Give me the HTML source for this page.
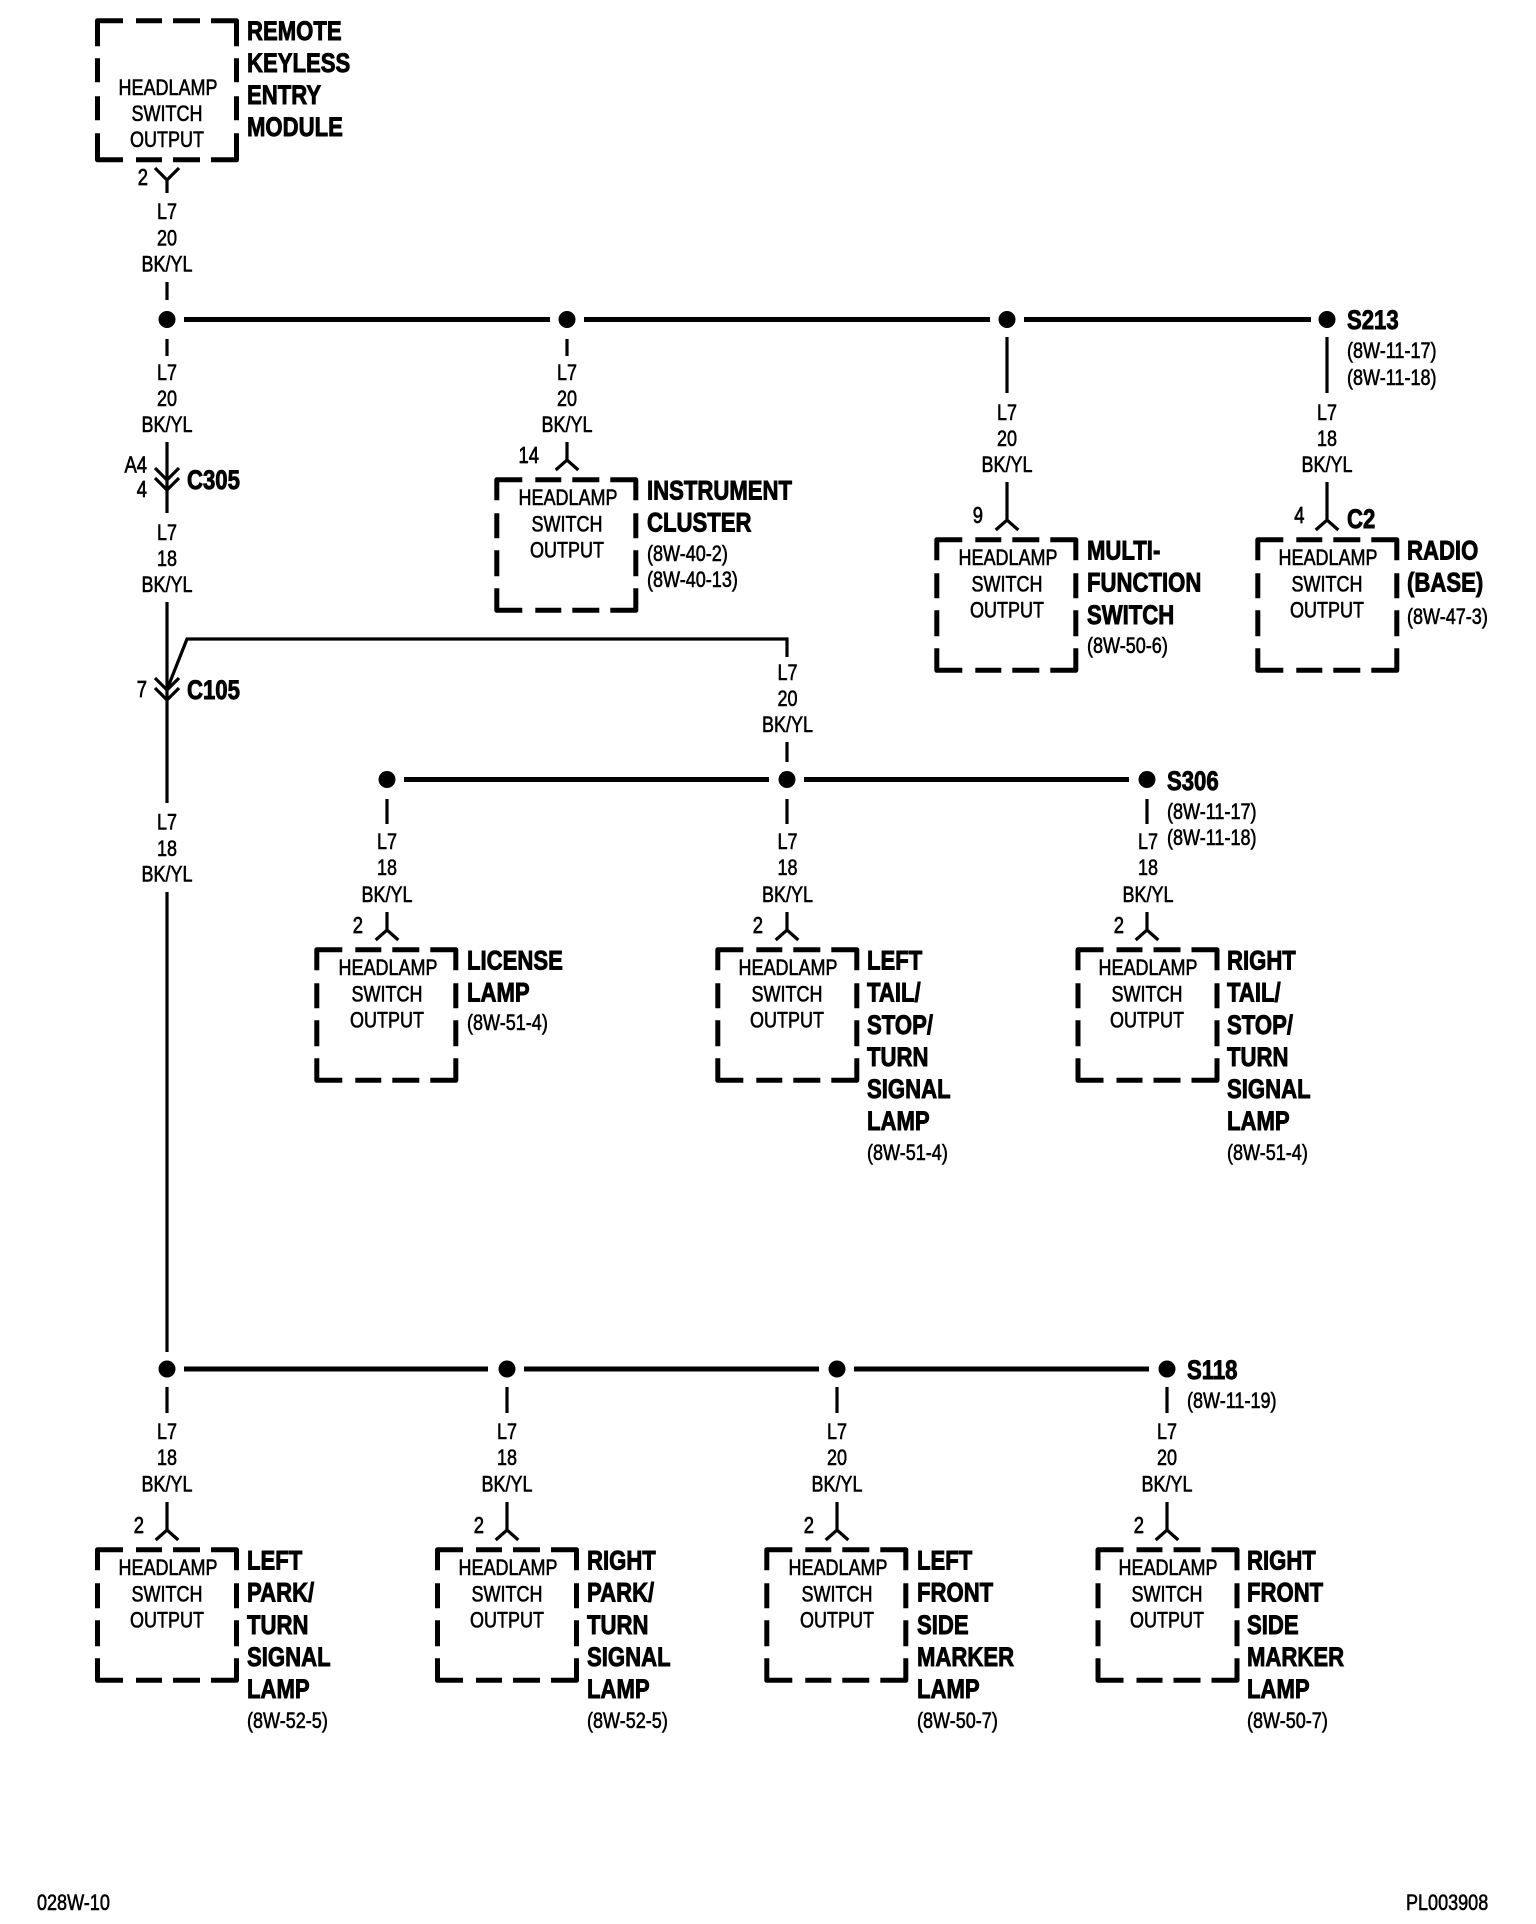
<!DOCTYPE html>
<html><head><meta charset="utf-8"><style>
html,body{margin:0;padding:0;background:#fff}
svg{display:block}
text{font-family:"Liberation Sans",sans-serif;fill:#000}
.w text{font-size:22.5px;text-anchor:middle;stroke:#000;stroke-width:.6}
.r text{font-size:22px;stroke:#000;stroke-width:.6}
.b text{font-size:27px;font-weight:bold;stroke:#000;stroke-width:.9}
.e text{font-size:23px;text-anchor:end;stroke:#000;stroke-width:.7}
.t path{fill:none;stroke:#000;stroke-width:3.2}
.bus line{stroke:#000;stroke-width:5}
</style></head><body>
<svg width="1536" height="1924" viewBox="0 0 1536 1924" xmlns="http://www.w3.org/2000/svg">
<defs>
<path id="bl" fill="none" stroke="#000" stroke-width="5" stroke-linejoin="round" d="M2.5 23V2.5H28M41 2.5H67M78 2.5H105M116 2.5H141.5V23M141.5 36V61M141.5 73V99M141.5 111V133H116M105 133H78M67 133H41M28 133H2.5V111M2.5 99V73M2.5 61V36"/>
<path id="bt" fill="none" stroke="#000" stroke-width="5" stroke-linejoin="round" d="M2.5 28V2.5H28M41 2.5H67M78 2.5H105M116 2.5H141.5V28M141.5 40V64M141.5 78V102M141.5 115V141.5H116M105 141.5H78M67 141.5H41M28 141.5H2.5V115M2.5 102V78M2.5 64V40"/>
</defs>

<!-- boxes -->
<use href="#bt" x="95" y="18.3"/>
<use href="#bl" x="494.3" y="477.3"/>
<use href="#bl" x="934.3" y="537.3"/>
<use href="#bl" x="1255.3" y="537.3"/>
<use href="#bl" x="314.3" y="947.3"/>
<use href="#bl" x="715.3" y="947.3"/>
<use href="#bl" x="1075.5" y="947.3"/>
<use href="#bl" x="95" y="1547.3"/>
<use href="#bl" x="435" y="1547.3"/>
<use href="#bl" x="764.3" y="1547.3"/>
<use href="#bl" x="1095.5" y="1547.3"/>

<!-- buses -->
<g class="bus">
<line x1="184" y1="319.5" x2="550" y2="319.5"/><line x1="584" y1="319.5" x2="990" y2="319.5"/><line x1="1024" y1="319.5" x2="1311" y2="319.5"/>
<line x1="404" y1="779.5" x2="769" y2="779.5"/><line x1="804" y1="779.5" x2="1129" y2="779.5"/>
<line x1="184" y1="1369" x2="488" y2="1369"/><line x1="524" y1="1369" x2="819" y2="1369"/><line x1="854" y1="1369" x2="1149" y2="1369"/>
</g>
<g fill="#000">
<circle cx="167" cy="319.5" r="8.5"/><circle cx="567" cy="319.5" r="8.5"/><circle cx="1007" cy="319.5" r="8.5"/><circle cx="1327" cy="319.5" r="8.5"/>
<circle cx="387" cy="779.5" r="8.5"/><circle cx="787" cy="779.5" r="8.5"/><circle cx="1147" cy="779.5" r="8.5"/>
<circle cx="167" cy="1369" r="8.5"/><circle cx="507" cy="1369" r="8.5"/><circle cx="837" cy="1369" r="8.5"/><circle cx="1167" cy="1369" r="8.5"/>
</g>

<!-- thin wires -->
<g class="t">
<path d="M155 168L167 180L179 168M167 180V193"/>
<path d="M167 282V300M167 339V356"/>
<path d="M167 442V513M155 468L167 480L179 468M155 478L167 490L179 478"/>
<path d="M167 602V803M155 678L167 690L179 678M155 688L167 700L179 688"/>
<path d="M167 892V1352"/>
<path d="M168 687L187 639H787V657M787 742V762"/>
<path d="M567 339V356M567 442V460M555.7 470L567 460L578.3 470"/>
<path d="M1007 337V393M1007 482V520M995.7 530L1007 520L1018.3 530"/>
<path d="M1327 337V393M1327 482V520M1315.7 530L1327 520L1338.3 530"/>
<path d="M387 799V824M387 912V930M375.7 940L387 930L398.3 940"/>
<path d="M787 799V824M787 912V930M775.7 940L787 930L798.3 940"/>
<path d="M1147 799V824M1147 912V930M1135.7 940L1147 930L1158.3 940"/>
<path d="M167 1387V1413M167 1502V1530M155.7 1540L167 1530L178.3 1540"/>
<path d="M507 1387V1413M507 1502V1530M495.7 1540L507 1530L518.3 1540"/>
<path d="M837 1387V1413M837 1502V1530M825.7 1540L837 1530L848.3 1540"/>
<path d="M1167 1387V1413M1167 1502V1530M1155.7 1540L1167 1530L1178.3 1540"/>
</g>

<!-- wire labels -->
<g class="w" transform="translate(167 0) scale(.8 1)"><text y="219">L7</text><text y="245.5">20</text><text y="271.5">BK/YL</text><text y="380">L7</text><text y="406">20</text><text y="432">BK/YL</text><text y="540">L7</text><text y="566">18</text><text y="592">BK/YL</text><text y="829.3">L7</text><text y="856">18</text><text y="881.7">BK/YL</text><text y="1439">L7</text><text y="1465">18</text><text y="1491.5">BK/YL</text></g>
<g class="w" transform="translate(567 0) scale(.8 1)"><text y="380">L7</text><text y="406">20</text><text y="432">BK/YL</text></g>
<g class="w" transform="translate(1007 0) scale(.8 1)"><text y="420">L7</text><text y="446">20</text><text y="472">BK/YL</text></g>
<g class="w" transform="translate(1327 0) scale(.8 1)"><text y="420">L7</text><text y="446">18</text><text y="472">BK/YL</text></g>
<g class="w" transform="translate(787.5 0) scale(.8 1)"><text y="680">L7</text><text y="706">20</text><text y="732">BK/YL</text><text y="849">L7</text><text y="875">18</text><text y="902">BK/YL</text></g>
<g class="w" transform="translate(387 0) scale(.8 1)"><text y="849">L7</text><text y="875">18</text><text y="902">BK/YL</text></g>
<g class="w" transform="translate(1148 0) scale(.8 1)"><text y="849">L7</text><text y="875">18</text><text y="902">BK/YL</text></g>
<g class="w" transform="translate(507 0) scale(.8 1)"><text y="1439">L7</text><text y="1465">18</text><text y="1491.5">BK/YL</text></g>
<g class="w" transform="translate(837 0) scale(.8 1)"><text y="1439">L7</text><text y="1465">20</text><text y="1491.5">BK/YL</text></g>
<g class="w" transform="translate(1167 0) scale(.8 1)"><text y="1439">L7</text><text y="1465">20</text><text y="1491.5">BK/YL</text></g>

<!-- box text -->
<g class="w" transform="translate(167 0) scale(.8 1)"><text x="1.2" y="95">HEADLAMP</text><text y="121">SWITCH</text><text y="147">OUTPUT</text><text x="1.2" y="1575">HEADLAMP</text><text y="1601.7">SWITCH</text><text y="1627.7">OUTPUT</text></g>
<g class="w" transform="translate(567 0) scale(.8 1)"><text x="1.2" y="505">HEADLAMP</text><text y="531.7">SWITCH</text><text y="557.7">OUTPUT</text></g>
<g class="w" transform="translate(1007 0) scale(.8 1)"><text x="1.2" y="565">HEADLAMP</text><text y="591.7">SWITCH</text><text y="617.7">OUTPUT</text></g>
<g class="w" transform="translate(1327 0) scale(.8 1)"><text x="1.2" y="565">HEADLAMP</text><text y="591.7">SWITCH</text><text y="617.7">OUTPUT</text></g>
<g class="w" transform="translate(387 0) scale(.8 1)"><text x="1.2" y="975">HEADLAMP</text><text y="1001.7">SWITCH</text><text y="1027.7">OUTPUT</text></g>
<g class="w" transform="translate(787 0) scale(.8 1)"><text x="1.2" y="975">HEADLAMP</text><text y="1001.7">SWITCH</text><text y="1027.7">OUTPUT</text></g>
<g class="w" transform="translate(1147 0) scale(.8 1)"><text x="1.2" y="975">HEADLAMP</text><text y="1001.7">SWITCH</text><text y="1027.7">OUTPUT</text></g>
<g class="w" transform="translate(507 0) scale(.8 1)"><text x="1.2" y="1575">HEADLAMP</text><text y="1601.7">SWITCH</text><text y="1627.7">OUTPUT</text></g>
<g class="w" transform="translate(837 0) scale(.8 1)"><text x="1.2" y="1575">HEADLAMP</text><text y="1601.7">SWITCH</text><text y="1627.7">OUTPUT</text></g>
<g class="w" transform="translate(1167 0) scale(.8 1)"><text x="1.2" y="1575">HEADLAMP</text><text y="1601.7">SWITCH</text><text y="1627.7">OUTPUT</text></g>

<!-- pin numbers -->
<g class="e" transform="translate(147 0) scale(.8 1)"><text y="472.5">A4</text><text y="497">4</text><text y="697">7</text></g>
<g class="e" transform="translate(148 0) scale(.8 1)"><text y="185">2</text></g>
<g class="e" transform="translate(539 0) scale(.8 1)"><text y="463">14</text></g>
<g class="e" transform="translate(983 0) scale(.8 1)"><text y="523">9</text></g>
<g class="e" transform="translate(1304.5 0) scale(.8 1)"><text y="523">4</text></g>
<g class="e" transform="translate(363 0) scale(.8 1)"><text y="933">2</text></g>
<g class="e" transform="translate(763 0) scale(.8 1)"><text y="933">2</text></g>
<g class="e" transform="translate(1124 0) scale(.8 1)"><text y="933">2</text></g>
<g class="e" transform="translate(144 0) scale(.8 1)"><text y="1533">2</text></g>
<g class="e" transform="translate(484 0) scale(.8 1)"><text y="1533">2</text></g>
<g class="e" transform="translate(814 0) scale(.8 1)"><text y="1533">2</text></g>
<g class="e" transform="translate(1144 0) scale(.8 1)"><text y="1533">2</text></g>

<!-- bold labels -->
<g class="b" transform="translate(247 0) scale(.82 1)"><text y="40">REMOTE</text><text y="72">KEYLESS</text><text y="104">ENTRY</text><text y="136">MODULE</text><text y="1569.3">LEFT</text><text y="1601.7">PARK/</text><text y="1634">TURN</text><text y="1666">SIGNAL</text><text y="1698">LAMP</text></g>
<g class="b" transform="translate(187 0) scale(.82 1)"><text y="489">C305</text><text y="699">C105</text></g>
<g class="b" transform="translate(647 0) scale(.82 1)"><text y="499.3">INSTRUMENT</text><text y="531.7">CLUSTER</text></g>
<g class="b" transform="translate(1347 0) scale(.82 1)"><text y="329">S213</text><text y="528">C2</text></g>
<g class="b" transform="translate(1087 0) scale(.82 1)"><text y="559.3">MULTI-</text><text y="591.7">FUNCTION</text><text y="624">SWITCH</text></g>
<g class="b" transform="translate(1407 0) scale(.82 1)"><text y="559.3">RADIO</text><text y="591.7">(BASE)</text></g>
<g class="b" transform="translate(1167 0) scale(.82 1)"><text y="790">S306</text></g>
<g class="b" transform="translate(467 0) scale(.82 1)"><text y="969.3">LICENSE</text><text y="1001.7">LAMP</text></g>
<g class="b" transform="translate(867 0) scale(.82 1)"><text y="969.3">LEFT</text><text y="1001.7">TAIL/</text><text y="1034">STOP/</text><text y="1066">TURN</text><text y="1098">SIGNAL</text><text y="1130">LAMP</text></g>
<g class="b" transform="translate(1227 0) scale(.82 1)"><text y="969.3">RIGHT</text><text y="1001.7">TAIL/</text><text y="1034">STOP/</text><text y="1066">TURN</text><text y="1098">SIGNAL</text><text y="1130">LAMP</text></g>
<g class="b" transform="translate(1187 0) scale(.82 1)"><text y="1379">S118</text></g>
<g class="b" transform="translate(587 0) scale(.82 1)"><text y="1569.3">RIGHT</text><text y="1601.7">PARK/</text><text y="1634">TURN</text><text y="1666">SIGNAL</text><text y="1698">LAMP</text></g>
<g class="b" transform="translate(917 0) scale(.82 1)"><text y="1569.3">LEFT</text><text y="1601.7">FRONT</text><text y="1634">SIDE</text><text y="1666">MARKER</text><text y="1698">LAMP</text></g>
<g class="b" transform="translate(1247 0) scale(.82 1)"><text y="1569.3">RIGHT</text><text y="1601.7">FRONT</text><text y="1634">SIDE</text><text y="1666">MARKER</text><text y="1698">LAMP</text></g>

<!-- references -->
<g class="r" transform="translate(1347 0) scale(.82 1)"><text y="358">(8W-11-17)</text><text y="385">(8W-11-18)</text></g>
<g class="r" transform="translate(647 0) scale(.82 1)"><text y="561">(8W-40-2)</text><text y="587">(8W-40-13)</text></g>
<g class="r" transform="translate(1087 0) scale(.82 1)"><text y="653">(8W-50-6)</text></g>
<g class="r" transform="translate(1407 0) scale(.82 1)"><text y="624">(8W-47-3)</text></g>
<g class="r" transform="translate(1167 0) scale(.82 1)"><text y="819">(8W-11-17)</text><text y="845">(8W-11-18)</text></g>
<g class="r" transform="translate(467 0) scale(.82 1)"><text y="1030">(8W-51-4)</text></g>
<g class="r" transform="translate(867 0) scale(.82 1)"><text y="1160">(8W-51-4)</text></g>
<g class="r" transform="translate(1227 0) scale(.82 1)"><text y="1160">(8W-51-4)</text></g>
<g class="r" transform="translate(1187 0) scale(.82 1)"><text y="1408">(8W-11-19)</text></g>
<g class="r" transform="translate(247 0) scale(.82 1)"><text y="1728">(8W-52-5)</text></g>
<g class="r" transform="translate(587 0) scale(.82 1)"><text y="1728">(8W-52-5)</text></g>
<g class="r" transform="translate(917 0) scale(.82 1)"><text y="1728">(8W-50-7)</text></g>
<g class="r" transform="translate(1247 0) scale(.82 1)"><text y="1728">(8W-50-7)</text></g>

<!-- footer -->
<g class="r" transform="translate(37 0) scale(.82 1)"><text y="1910">028W-10</text></g>
<g class="r" transform="translate(1406 0) scale(.82 1)"><text y="1910">PL003908</text></g>
</svg>
</body></html>
